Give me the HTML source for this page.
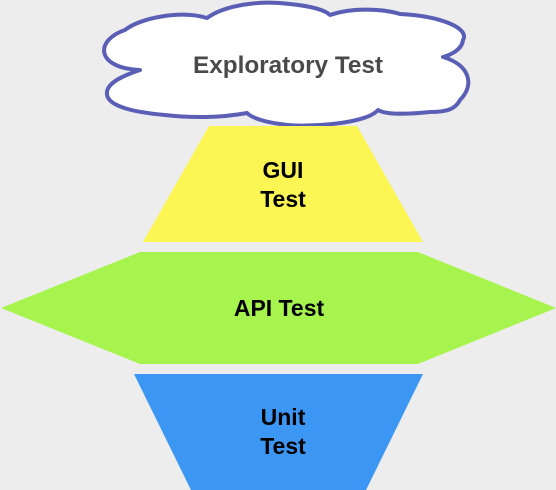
<!DOCTYPE html>
<html><head><style>
html,body{margin:0;padding:0;background:#ededed;}
svg{display:block}
text{font-family:"Liberation Sans",Arial,sans-serif;font-weight:bold;text-anchor:middle;}
</style></head><body>
<svg width="556" height="490" viewBox="0 0 556 490" xmlns="http://www.w3.org/2000/svg">
<rect width="556" height="490" fill="#ededed"/>
<path d="M140,70 C95,68 95,40 125,30 C140,18 180,10 207,18 C225,5 260,0 290,4 C310,6 325,10 330,15 C350,8 380,8 400,14 C440,16 470,28 463,40 C462,50 450,55 443,57 C470,65 475,85 460,100 C455,110 445,112 430,112 C400,115 385,114 378,110 C365,125 300,128 280,124 C265,122 252,118 247,113 C220,118 190,118 165,115 C130,112 105,105 107,92 C108,82 125,75 140,70 Z" fill="#fff" stroke="#5a5fb5" stroke-width="4" stroke-linejoin="round"/>
<text x="288" y="73" font-size="24" fill="#4a4a4a" textLength="190" lengthAdjust="spacingAndGlyphs">Exploratory Test</text>
<polygon points="209,126 357,126 423,242 143,242" fill="#fbf653"/>
<text x="283" y="178" font-size="23" fill="#000">GUI</text>
<text x="283" y="207" font-size="23" fill="#000">Test</text>
<polygon points="140,252 418,252 556,308 418,364 140,364 1,308" fill="#a8f44f"/>
<text x="279" y="316" font-size="23" fill="#000">API Test</text>
<polygon points="134,374 423,374 366,490 191,490" fill="#3c97f4"/>
<text x="283" y="425" font-size="23" fill="#000">Unit</text>
<text x="283" y="454" font-size="23" fill="#000">Test</text>
</svg>
</body></html>
